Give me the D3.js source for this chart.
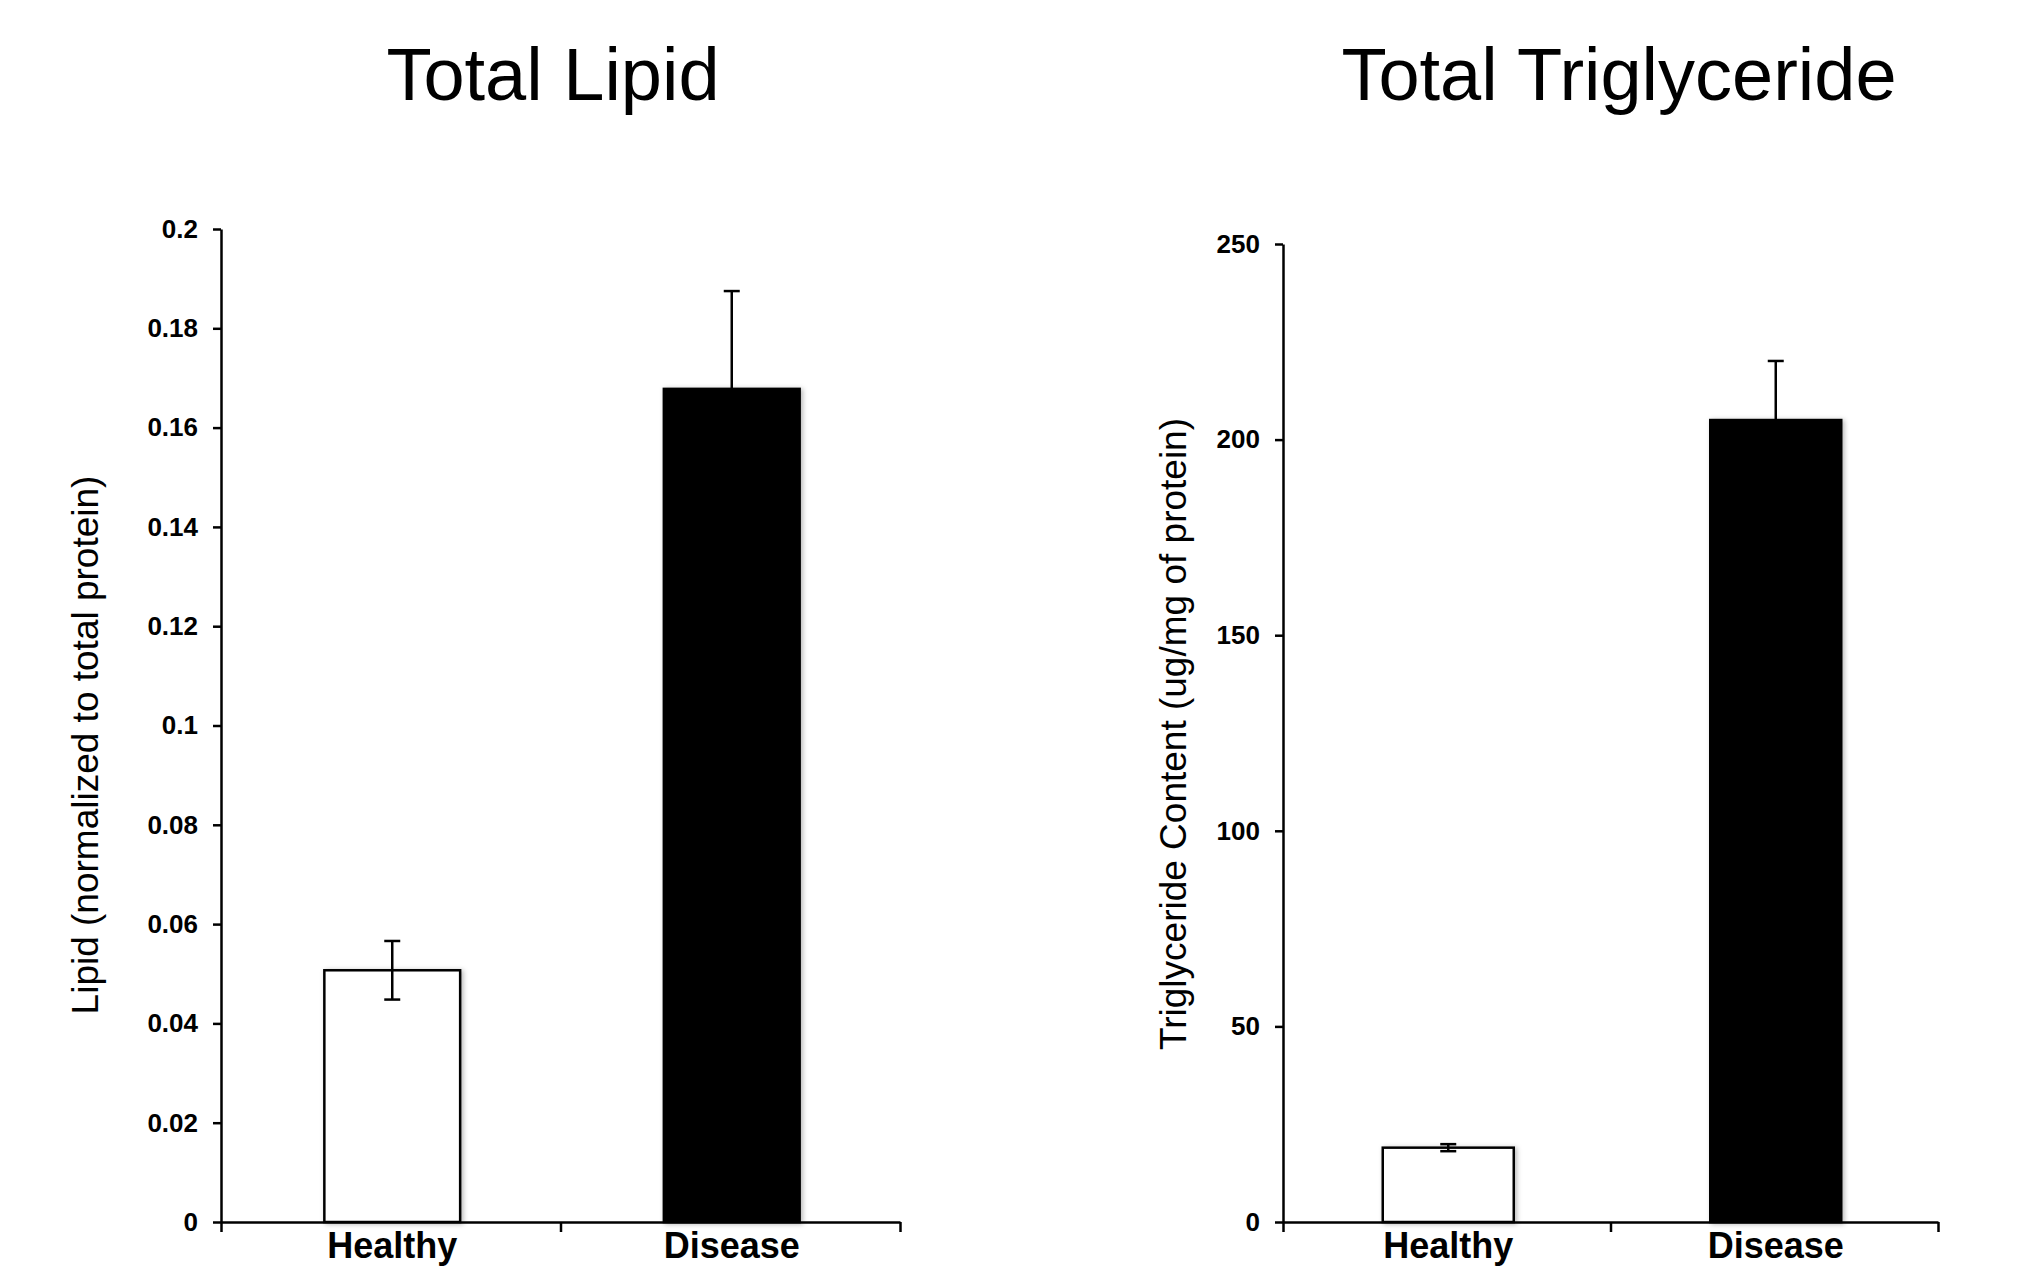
<!DOCTYPE html>
<html>
<head>
<meta charset="utf-8">
<script src="https://cdn.jsdelivr.net/npm/d3@7"></script>
<style>
  html, body { margin: 0; padding: 0; background: #fff; }
  svg { display: block; }
  text { font-family: "Liberation Sans", Arial, Helvetica, sans-serif; fill: #000; }
</style>
</head>
<body>
<svg id="chart" width="2027" height="1280"></svg>
<script>
// ---- data ----
const categories = ["Healthy", "Disease"];

const lipidTitle = "Total Lipid";
const lipidAxisTitle = "Lipid (normalized to total protein)";
const lipidValues = [0.0507, 0.1678];
const lipidErrors = [0.0059, 0.0197];
const lipidTicks = [0, 0.02, 0.04, 0.06, 0.08, 0.1, 0.12, 0.14, 0.16, 0.18, 0.2];
const lipidTickLabels = ["0", "0.02", "0.04", "0.06", "0.08", "0.1", "0.12", "0.14", "0.16", "0.18", "0.2"];

const trigTitle = "Total Triglyceride";
const trigAxisTitle = "Triglyceride Content (ug/mg of protein)";
const trigValues = [19.0, 205.0];
const trigErrors = [0.9, 15.1];
const trigTicks = [0, 50, 100, 150, 200, 250];
const trigTickLabels = ["0", "50", "100", "150", "200", "250"];

const barFills = ["#ffffff", "#000000"];

// ---- drawing ----
const svg = d3.select("#chart");
const defs = svg.append("defs");
const f = defs.append("filter").attr("id", "shadow")
  .attr("x", "-10%").attr("y", "-10%").attr("width", "130%").attr("height", "130%");
f.append("feDropShadow").attr("dx", 2).attr("dy", 1).attr("stdDeviation", 2.5)
  .attr("flood-color", "#000").attr("flood-opacity", 0.28);

function panel(cfg) {
  const g = svg.append("g");
  const y = d3.scaleLinear().domain([cfg.ticks[0], cfg.ticks[cfg.ticks.length - 1]])
    .range([cfg.y0, cfg.y1]);
  const xb = d3.scaleBand().domain(categories).range([cfg.x0, cfg.x1]).padding(0);
  const xt = d3.scaleLinear().domain([0, categories.length]).range([cfg.x0, cfg.x1]);
  const barW = xb.bandwidth() * 0.4;
  const cx = d => xb(d) + xb.bandwidth() / 2 + 1.5;

  // title
  g.append("text").attr("x", cfg.titleX).attr("y", 100)
    .attr("text-anchor", "middle").style("font-size", "74px").text(cfg.title);

  // y axis title
  g.append("text")
    .attr("transform", `translate(${cfg.ytX},${cfg.ytY}) rotate(-90)`)
    .attr("text-anchor", "middle").style("font-size", "37px").text(cfg.axisTitle);

  // bars
  const data = categories.map((c, i) => ({ c, v: cfg.values[i], e: cfg.errors[i], fill: barFills[i] }));
  g.selectAll("rect.bar").data(data).enter().append("rect")
    .attr("class", "bar")
    .attr("x", d => cx(d.c) - barW / 2)
    .attr("y", d => y(d.v))
    .attr("width", barW)
    .attr("height", d => y(0) - y(d.v))
    .attr("fill", d => d.fill)
    .attr("stroke", "#000").attr("stroke-width", 2.5)
    .attr("filter", "url(#shadow)");

  // error bars
  const capW = 16;
  const eg = g.selectAll("g.err").data(data).enter().append("g").attr("class", "err")
    .attr("stroke", "#000").attr("stroke-width", 2.5);
  eg.append("line")
    .attr("x1", d => cx(d.c)).attr("x2", d => cx(d.c))
    .attr("y1", d => y(d.v - d.e)).attr("y2", d => y(d.v + d.e));
  eg.append("line")
    .attr("x1", d => cx(d.c) - capW / 2).attr("x2", d => cx(d.c) + capW / 2)
    .attr("y1", d => y(d.v + d.e)).attr("y2", d => y(d.v + d.e));
  eg.append("line")
    .attr("x1", d => cx(d.c) - capW / 2).attr("x2", d => cx(d.c) + capW / 2)
    .attr("y1", d => y(d.v - d.e)).attr("y2", d => y(d.v - d.e));

  // y axis
  const ya = g.append("g").attr("transform", `translate(${cfg.x0},0)`)
    .call(d3.axisLeft(y).tickValues(cfg.ticks)
      .tickFormat((d, i) => cfg.tickLabels[i])
      .tickSize(8).tickSizeOuter(0).tickPadding(15));
  ya.select(".domain").attr("stroke-width", 2.5);
  ya.selectAll(".tick line").attr("stroke-width", 2.5);
  ya.selectAll(".tick text").style("font-size", "26px").style("font-weight", "bold")
    .style("font-family", '"Liberation Sans", Arial, sans-serif');

  // x axis
  const xa = g.append("g").attr("transform", `translate(0,${cfg.y0})`)
    .call(d3.axisBottom(xt).tickValues(d3.range(categories.length + 1))
      .tickFormat("").tickSize(10).tickSizeOuter(0));
  xa.select(".domain").attr("stroke-width", 2.5);
  xa.selectAll(".tick line").attr("stroke-width", 2.5);

  // category labels
  g.selectAll("text.cat").data(categories).enter().append("text")
    .attr("class", "cat")
    .attr("x", d => cx(d)).attr("y", 1258)
    .attr("text-anchor", "middle")
    .style("font-size", "36px").style("font-weight", "bold")
    .text(d => d);
}

panel({
  title: lipidTitle, axisTitle: lipidAxisTitle,
  values: lipidValues, errors: lipidErrors,
  ticks: lipidTicks, tickLabels: lipidTickLabels,
  x0: 221, x1: 900, y0: 1222, y1: 229,
  titleX: 553, ytX: 98, ytY: 745
});

panel({
  title: trigTitle, axisTitle: trigAxisTitle,
  values: trigValues, errors: trigErrors,
  ticks: trigTicks, tickLabels: trigTickLabels,
  x0: 1283, x1: 1938, y0: 1222, y1: 244,
  titleX: 1619, ytX: 1186, ytY: 734
});
</script>
</body>
</html>
